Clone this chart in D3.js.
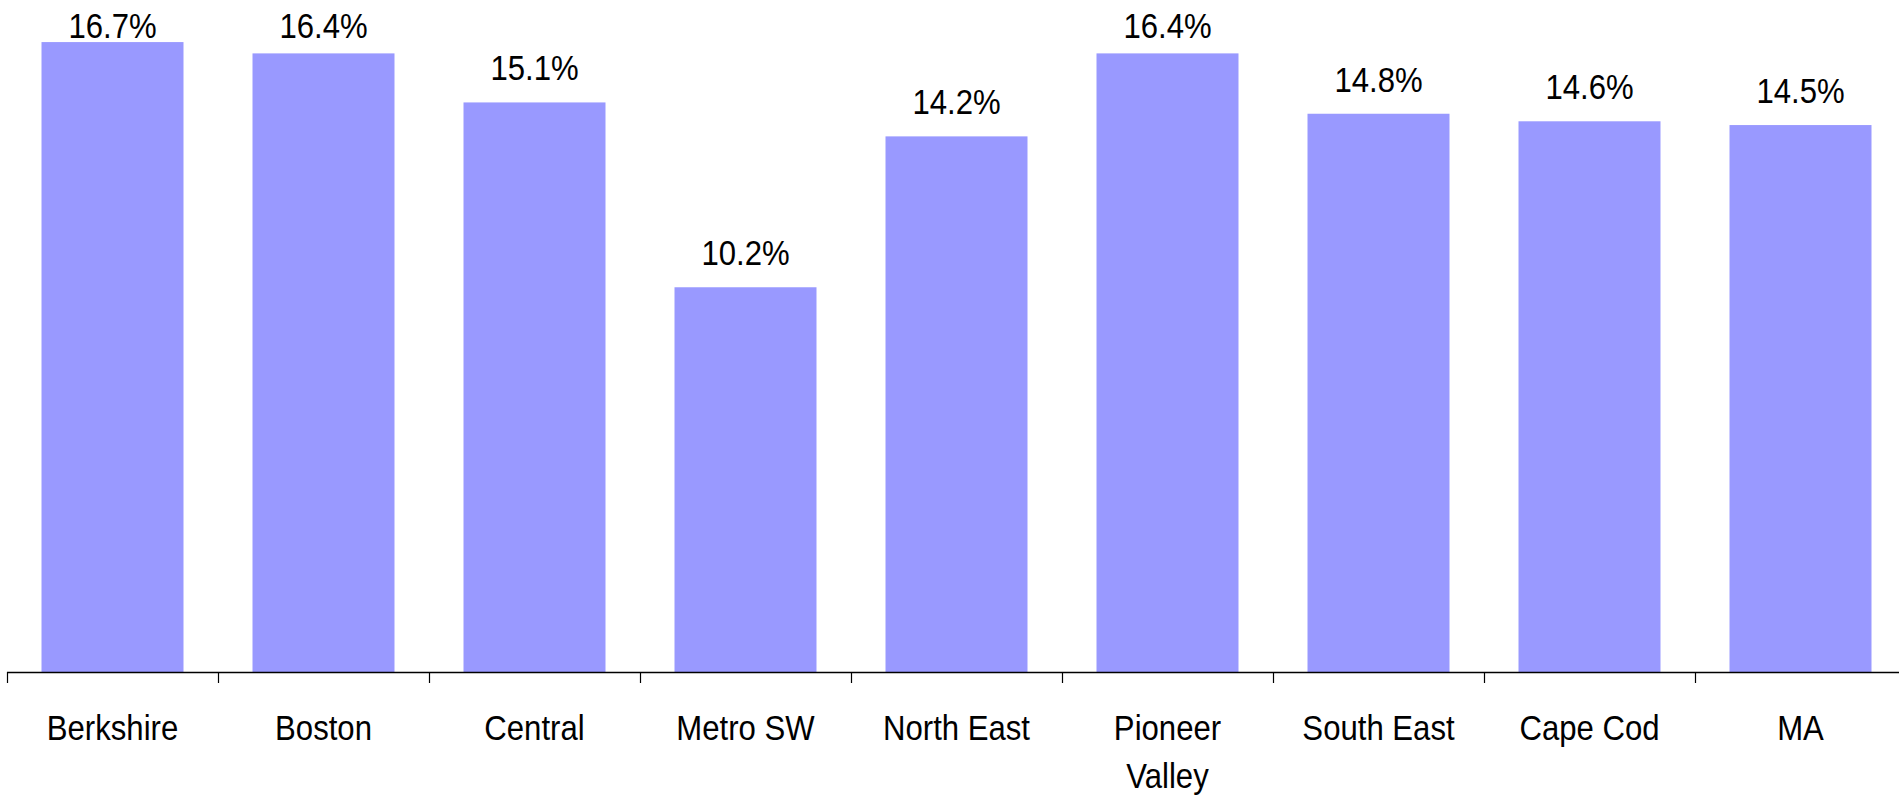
<!DOCTYPE html>
<html>
<head>
<meta charset="utf-8">
<script src="https://cdn.jsdelivr.net/npm/d3@7"></script>
<style>
	html, body { margin: 0; padding: 0; background: #fff; overflow: hidden; }
	text { font-family: "Liberation Sans", Arial, sans-serif; fill: #000; }
</style>
</head>
<body>
<div id="chart-area"></div>
<script>

// chart data
let regions = ["Berkshire", "Boston", "Central", "Metro SW", "North East", "Pioneer Valley", "South East", "Cape Cod", "MA"];
let rates = [16.7, 16.4, 15.1, 10.2, 14.2, 16.4, 14.8, 14.6, 14.5];
let valueLabels = ["16.7%", "16.4%", "15.1%", "10.2%", "14.2%", "16.4%", "14.8%", "14.6%", "14.5%"];

let width = 1899;
let height = 795;
let baseline = 672;
let squeeze = 0.865; // text looks horizontally compressed in the original

let svg = d3.select("#chart-area").append("svg")
	.attr("width", width)
	.attr("height", height);

// band of 211px per region, starting at x=7 (last one runs off the page)
let xScale = d3.scaleBand()
	.domain(regions)
	.range([7, 7 + 211 * regions.length])
	.paddingInner(0.327)
	.paddingOuter(0.1635);

let yScale = d3.scaleLinear()
	.domain([0, 18])
	.range([baseline, baseline - 18 * 37.72]);

// bars
svg.selectAll("rect.bar")
	.data(regions)
	.enter()
	.append("rect")
	.attr("class", "bar")
	.attr("x", d => xScale(d))
	.attr("width", xScale.bandwidth())
	.attr("y", (d, i) => yScale(rates[i]))
	.attr("height", (d, i) => baseline - yScale(rates[i]))
	.attr("fill", "#9999ff");

// value labels above bars, kept inside the top of the page
svg.selectAll("g.value-label")
	.data(regions)
	.enter()
	.append("g")
	.attr("class", "value-label")
	.attr("transform", (d, i) => {
		let y = Math.max(38, yScale(rates[i]) - 22);
		return "translate(" + (xScale(d) + xScale.bandwidth() / 2) + "," + y + ") scale(" + squeeze + ",1)";
	})
	.append("text")
	.attr("text-anchor", "middle")
	.style("font-size", "36px")
	.text((d, i) => valueLabels[i]);

// x axis line
svg.append("line")
	.attr("x1", xScale.range()[0])
	.attr("x2", width)
	.attr("y1", baseline + 0.5)
	.attr("y2", baseline + 0.5)
	.attr("stroke", "#000")
	.attr("stroke-width", 1.3);

// ticks between categories
let boundaries = d3.range(regions.length + 1).map(i => xScale.range()[0] + i * xScale.step());
svg.selectAll("line.tick")
	.data(boundaries)
	.enter()
	.append("line")
	.attr("class", "tick")
	.attr("x1", d => Math.round(d) + 0.5)
	.attr("x2", d => Math.round(d) + 0.5)
	.attr("y1", baseline)
	.attr("y2", baseline + 11)
	.attr("stroke", "#000")
	.attr("stroke-width", 1.2);

// category labels (Pioneer Valley wraps to two lines)
let catLabels = svg.selectAll("g.cat-label")
	.data(regions)
	.enter()
	.append("g")
	.attr("class", "cat-label")
	.attr("transform", d => "translate(" + (xScale(d) + xScale.bandwidth() / 2) + ",740) scale(" + squeeze + ",1)")
	.append("text")
	.attr("text-anchor", "middle")
	.style("font-size", "36px");

catLabels.each(function(d) {
	let words = d === "Pioneer Valley" ? ["Pioneer", "Valley"] : [d];
	d3.select(this).selectAll("tspan")
		.data(words)
		.enter()
		.append("tspan")
		.attr("x", 0)
		.attr("dy", (w, i) => i === 0 ? 0 : 48)
		.text(w => w);
});

</script>
</body>
</html>
